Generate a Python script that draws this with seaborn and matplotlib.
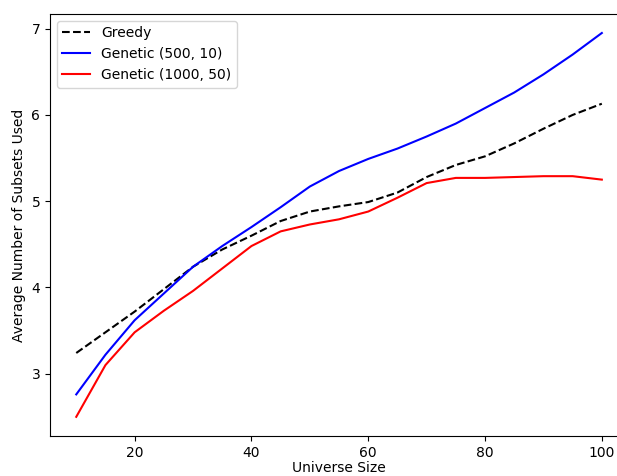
import matplotlib
matplotlib.use('Agg')
import matplotlib.pyplot as plt
import seaborn as sns
import pandas as pd

# values
universe_size = [10, 15, 20, 25, 30, 35, 40, 45, 50, 55, 60, 65, 70, 75, 80, 85, 90, 95, 100]
greedy = [3.24, 3.48, 3.72, 3.98, 4.24, 4.44, 4.60, 4.77, 4.88, 4.94, 4.99, 5.10, 5.28, 5.42, 5.52, 5.67, 5.84, 6.00, 6.13]
genetic_500_10 = [2.76, 3.22, 3.62, 3.93, 4.24, 4.48, 4.70, 4.93, 5.17, 5.35, 5.49, 5.61, 5.75, 5.90, 6.08, 6.26, 6.47, 6.70, 6.95]
genetic_1000_50 = [2.50, 3.10, 3.48, 3.73, 3.96, 4.22, 4.48, 4.65, 4.73, 4.79, 4.88, 5.04, 5.21, 5.27, 5.27, 5.28, 5.29, 5.29, 5.25]

df = pd.DataFrame({'size': universe_size, 'greedy': greedy,
                   'gen1': genetic_500_10, 'gen2': genetic_1000_50})

fig = plt.figure(figsize=(6.17, 4.76), dpi=100)
ax = fig.add_axes([0.081, 0.084, 0.937, 0.887])

sns.lineplot(data=df, x='size', y='greedy', ax=ax, color='black', linestyle='--',
             linewidth=1.5, label='Greedy')
sns.lineplot(data=df, x='size', y='gen1', ax=ax, color='blue',
             linewidth=1.5, label='Genetic (500, 10)')
sns.lineplot(data=df, x='size', y='gen2', ax=ax, color='red',
             linewidth=1.5, label='Genetic (1000, 50)')

ax.set_xlabel('Universe Size', labelpad=1)
ax.set_ylabel('Average Number of Subsets Used')
ax.set_xticks([20, 40, 60, 80, 100])
ax.set_yticks([3, 4, 5, 6, 7])
ax.legend(loc='upper left')

fig.savefig('out.png', dpi=100)
